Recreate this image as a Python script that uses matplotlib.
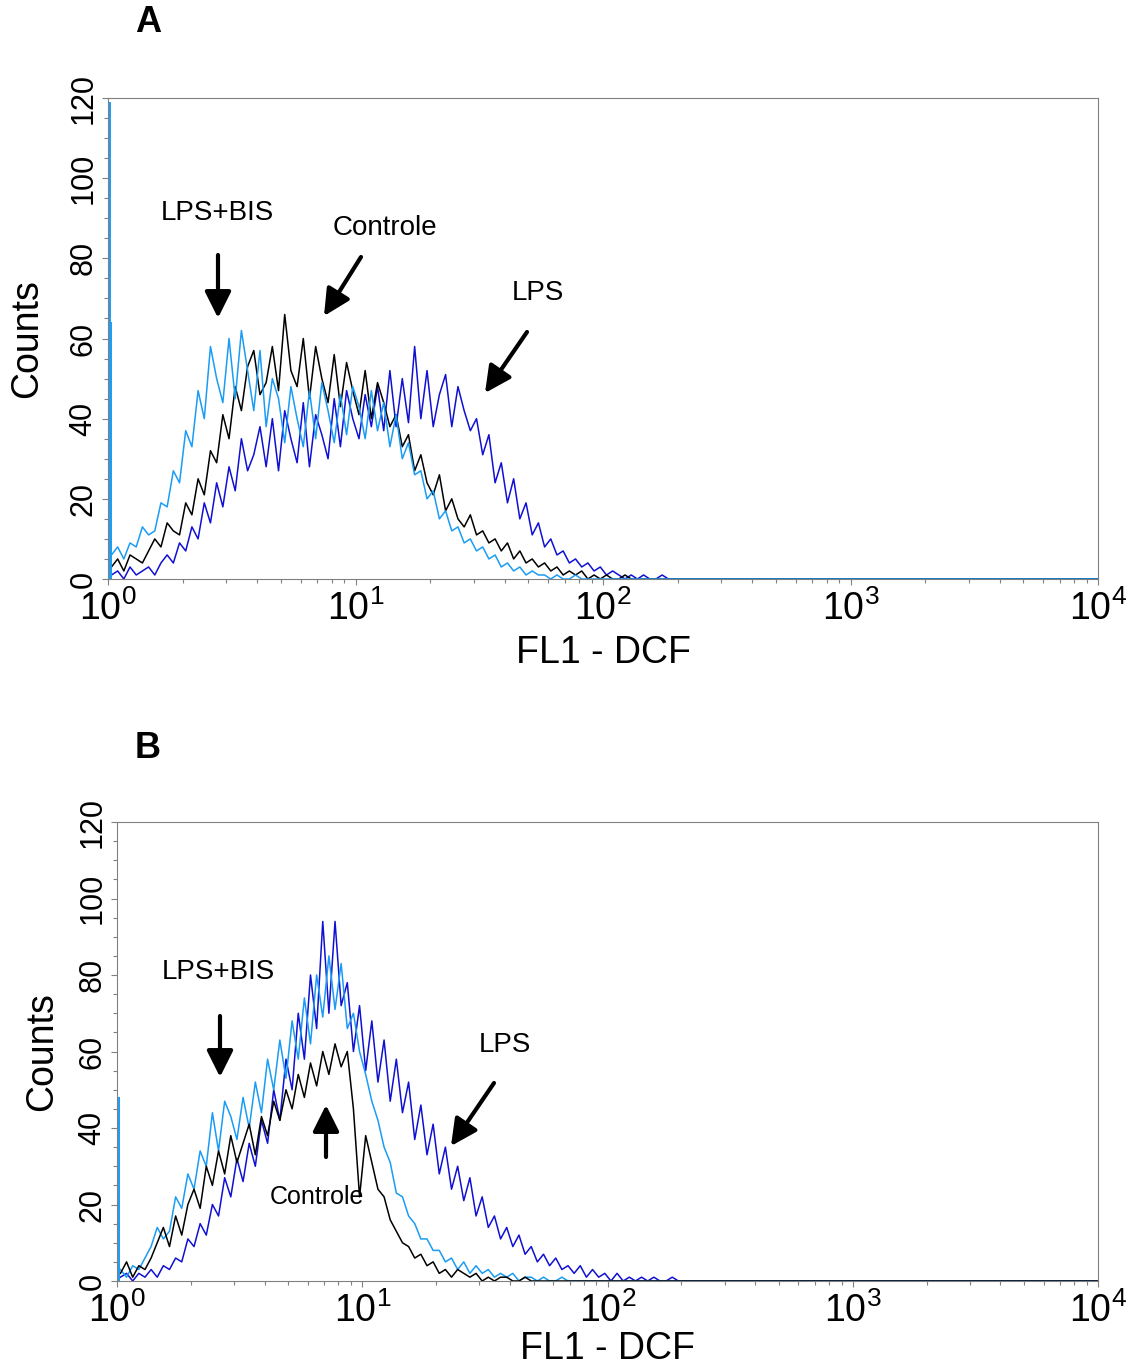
import matplotlib
matplotlib.use("Agg")
import matplotlib.pyplot as plt
import numpy as np

plt.rcParams['font.family'] = ['Liberation Sans', 'DejaVu Sans']

# histogram channels: one value every 0.025 decade
step = 0.025
start = 0.014

# Panel A counts
a_controle = [3, 5, 2, 6, 5, 4, 7, 10, 8, 14,
              12, 11, 19, 16, 25, 21, 32, 29, 41, 35,
              48, 42, 53, 57, 46, 49, 58, 47, 66, 52,
              48, 60, 45, 58, 50, 44, 56, 43, 54, 47,
              41, 52, 40, 49, 44, 38, 41, 33, 36, 27,
              31, 24, 21, 26, 17, 20, 15, 13, 16, 11,
              12, 9, 10, 7, 9, 5, 7, 4, 5, 3,
              4, 2, 3, 1, 2, 1, 2, 0, 1, 0,
              1, 0, 0, 1, 0, 0, 0, 0, 0, 0, 0, 0, 0]
a_lps_bis_edge = [119, 64]
a_lps_bis = [6, 8, 5, 9, 8, 13, 11, 12, 19, 18,
             27, 24, 37, 33, 47, 40, 58, 50, 44, 60,
             45, 62, 52, 42, 57, 38, 50, 45, 34, 48,
             40, 33, 47, 35, 49, 42, 34, 46, 36, 48,
             43, 35, 47, 37, 44, 33, 41, 30, 34, 26,
             27, 20, 22, 15, 17, 12, 13, 9, 10, 7,
             8, 5, 6, 3, 4, 2, 3, 1, 2, 1,
             1, 0, 1, 0, 0, 1, 0, 0, 0, 0,
             0, 0, 0, 0, 0, 0, 0, 0, 0, 0, 0, 0, 0]
a_lps = [1, 2, 0, 3, 1, 2, 3, 1, 4, 6,
         4, 9, 7, 13, 10, 19, 14, 24, 18, 28,
         22, 35, 27, 31, 38, 28, 40, 27, 42, 35,
         29, 44, 28, 41, 36, 30, 45, 33, 47, 40,
         35, 46, 38, 48, 37, 52, 38, 50, 39, 58,
         40, 52, 38, 46, 51, 38, 48, 42, 37, 40,
         31, 36, 24, 29, 19, 25, 15, 19, 11, 14,
         8, 10, 6, 7, 4, 5, 3, 4, 2, 3,
         1, 2, 1, 0, 1, 0, 1, 0, 0, 1, 0, 0, 0]

# Panel B counts
b_controle = [2, 5, 1, 4, 3, 6, 10, 14, 9, 17,
              12, 20, 24, 19, 30, 25, 34, 28, 38, 31,
              36, 41, 33, 43, 38, 47, 42, 50, 45, 54,
              48, 57, 51, 60, 54, 62, 56, 60, 45, 22,
              38, 31, 24, 22, 16, 13, 10, 9, 6, 7,
              4, 5, 2, 3, 1, 3, 2, 1, 2, 0,
              1, 0, 1, 1, 0, 0, 1, 0, 0, 0,
              0, 0, 0, 0, 0, 0, 0, 0, 0, 0,
              0, 0, 0, 0, 0, 0, 0, 0, 0, 0, 0, 0, 0]
b_lps_bis_edge = [48]
b_lps_bis = [3, 1, 4, 3, 6, 9, 14, 11, 13, 22,
             19, 28, 24, 34, 30, 44, 34, 47, 43, 37,
             48, 40, 52, 44, 58, 50, 63, 53, 68, 58,
             74, 62, 80, 69, 85, 71, 83, 66, 70, 60,
             54, 47, 42, 35, 31, 23, 22, 17, 15, 11,
             11, 8, 8, 5, 6, 3, 5, 2, 4, 2,
             3, 1, 2, 1, 2, 0, 1, 1, 0, 1,
             0, 0, 1, 0, 0, 0, 0, 0, 0, 0,
             0, 0, 0, 0, 0, 0, 0, 0, 0, 0, 0, 0, 0]
b_lps = [1, 2, 0, 2, 1, 3, 1, 4, 3, 6,
         5, 11, 9, 15, 12, 20, 17, 27, 22, 32,
         26, 36, 30, 42, 36, 50, 42, 58, 50, 70,
         58, 80, 66, 94, 70, 94, 72, 78, 60, 72,
         55, 68, 52, 63, 47, 58, 44, 52, 37, 46,
         33, 41, 28, 35, 24, 30, 21, 27, 17, 22,
         14, 17, 11, 14, 9, 12, 7, 9, 5, 7,
         4, 6, 3, 4, 2, 4, 1, 3, 1, 2,
         0, 2, 0, 1, 0, 1, 0, 1, 0, 0, 1, 0, 0]

# first (pile-up) channels of the LPS+BIS runs
edge_channels = [1.016, 1.026]

col_controle = 'black'
col_lps_bis = '#1a9cf5'
col_lps = '#1010d2'

W, H = 1137, 1366


def fx(x):
    return x / W


def fy(y):
    return 1 - y / H


def channels(vals):
    x = 10 ** (start + step * np.arange(len(vals)))
    # flat baseline out to the end of the axis
    return np.append(x, 1e4), np.append(vals, 0)


def draw_panel(ax, series, edge, xpad):
    for vals, c in series:
        x, y = channels(vals)
        ax.plot(x, y, color=c, lw=1.1)
    ax.vlines(edge_channels[:len(edge)], 0, edge, color=col_lps_bis, lw=1.4, zorder=3)
    ax.set_xscale('log')
    ax.set_xlim(1, 1e4)
    ax.set_ylim(0, 120)
    ax.set_yticks(range(0, 121, 20))
    ax.set_yticks(range(0, 121, 5), minor=True)
    for s in ax.spines.values():
        s.set_color('#808080')
        s.set_linewidth(0.8)
    ax.tick_params(which='both', direction='out', color='#808080', width=0.8)
    ax.tick_params(which='major', length=4)
    ax.tick_params(which='minor', length=3)
    ax.tick_params(axis='x', labelsize=27, pad=4)
    ax.tick_params(axis='y', labelsize=22, pad=3)
    plt.setp(ax.get_yticklabels(), rotation=90, va='center')
    ax.set_xlabel('FL1 - DCF', fontsize=27, labelpad=xpad)


def arrow(tail, tip):
    fig.add_artist(matplotlib.patches.FancyArrowPatch(
        (fx(tail[0]), fy(tail[1])), (fx(tip[0]), fy(tip[1])),
        transform=fig.transFigure, arrowstyle='-|>,head_length=0.8,head_width=0.4',
        mutation_scale=20, lw=3, color='black', shrinkA=0, shrinkB=0))


def label(x, y, s, size):
    fig.text(fx(x), fy(y), s, fontsize=size, ha='center', va='center')


fig = plt.figure(figsize=(W / 100, H / 100), dpi=100)

axA = fig.add_axes([fx(108), fy(579), fx(990), 481 / H])
draw_panel(axA, [(a_lps, col_lps), (a_controle, col_controle), (a_lps_bis, col_lps_bis)],
           a_lps_bis_edge, 5)
axA.set_ylabel('Counts', fontsize=27, labelpad=17)

axB = fig.add_axes([fx(117), fy(1281), fx(981), 459 / H])
draw_panel(axB, [(b_lps, col_lps), (b_lps_bis, col_lps_bis), (b_controle, col_controle)],
           b_lps_bis_edge, 1)
axB.set_ylabel('Counts', fontsize=27, labelpad=12)

fig.text(fx(148), fy(22), 'A', fontsize=26, fontweight='bold', ha='center', va='center')
fig.text(fx(148), fy(748), 'B', fontsize=26, fontweight='bold', ha='center', va='center')

label(217, 213, 'LPS+BIS', 20)
label(385, 228, 'Controle', 20)
label(538, 293, 'LPS', 20)
arrow((218, 255), (218, 318))
arrow((361, 257), (324, 316))
arrow((527, 332), (485, 393))

label(218, 972, 'LPS+BIS', 20)
label(505, 1045, 'LPS', 20)
label(317, 1197, 'Controle', 18)
arrow((220, 1016), (220, 1077))
arrow((326, 1157), (326, 1105))
arrow((494, 1083), (451, 1146))

fig.savefig('out.png', dpi=100, facecolor='white')
